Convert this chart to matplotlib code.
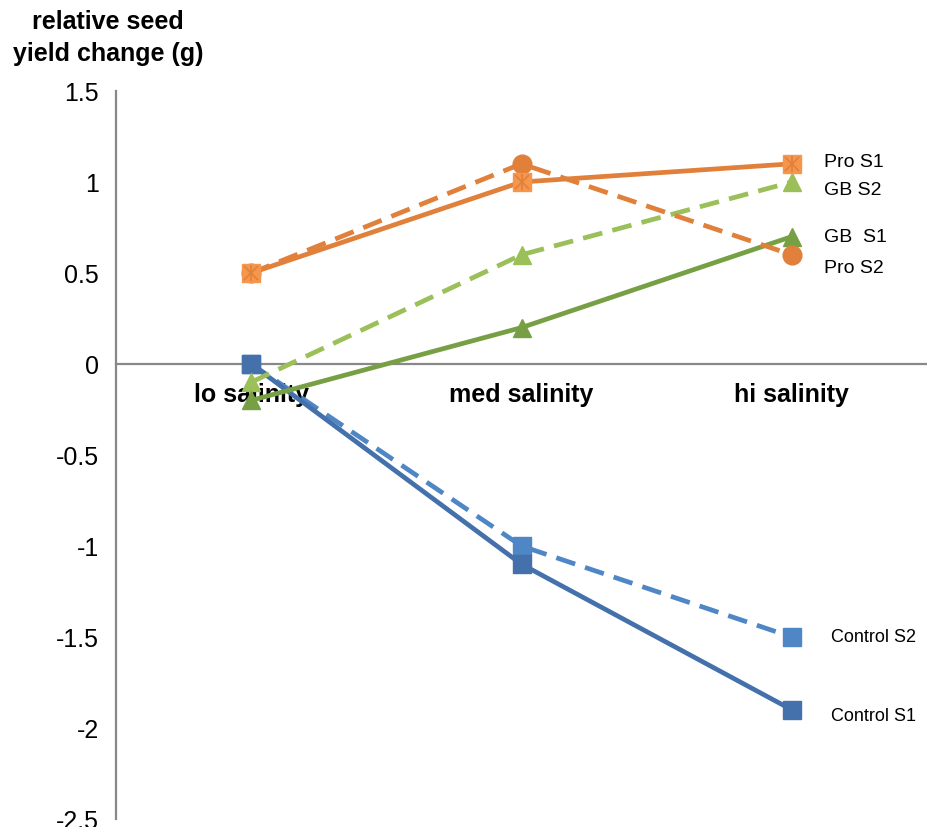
import numpy as np
import matplotlib.pyplot as plt

plt.rcParams['font.family'] = ['Liberation Sans', 'DejaVu Sans']

categories = ['lo salinity', 'med salinity', 'hi salinity']

control_s1 = [0.0, -1.1, -1.9]
control_s2 = [0.0, -1.0, -1.5]
pro_s1 = [0.5, 1.0, 1.1]
pro_s2 = [0.5, 1.1, 0.6]
gb_s1 = [-0.2, 0.2, 0.7]
gb_s2 = [-0.1, 0.6, 1.0]

yticks = [1.5, 1, 0.5, 0, -0.5, -1, -1.5, -2, -2.5]
ytick_labels = ['1.5', '1', '0.5', '0', '-0.5', '-1', '-1.5', '-2', '-2.5']

blue_dark = '#4470AB'
blue_light = '#4F86C6'
orange = '#E0803A'
orange_light = '#F5964C'
green_dark = '#77A045'
green_light = '#9BBF59'

fig = plt.figure(figsize=(9.27, 8.28), dpi=100)
ax = fig.add_axes([116 / 927, 8 / 828, 811 / 927, 728 / 828])

x = np.arange(len(categories))
lw = 3.4
ms = 12.5
dash = (0, (4.2, 2.2))

ax.plot(x, control_s2, color=blue_light, lw=lw, ls=dash,
        marker='s', ms=ms, zorder=3)
ax.plot(x, control_s1, color=blue_dark, lw=lw, marker='s', ms=ms, zorder=3)
ax.plot(x, gb_s2, color=green_light, lw=lw, ls=dash,
        marker='^', ms=ms + 1, zorder=3)
ax.plot(x, gb_s1, color=green_dark, lw=lw, marker='^', ms=ms + 1, zorder=3)
ax.plot(x, pro_s2, color=orange, lw=lw, ls=dash,
        marker='o', ms=ms + 1, zorder=3)
ax.plot(x, pro_s1, color=orange, lw=lw, marker='s', ms=ms,
        mfc=orange_light, mec=orange_light, zorder=4)
# star overlay on the Pro S1 squares
ax.plot(x, pro_s1, ls='none', marker='x', ms=ms - 2, mec=orange, mew=1.2, zorder=5)
ax.plot(x, pro_s1, ls='none', marker='|', ms=ms - 1, mec=orange, mew=1.2, zorder=5)

# series names at the right end
names = ['Pro S1', 'GB S2', 'GB  S1', 'Pro S2', 'Control S2', 'Control S1']
ends = [pro_s1[-1], gb_s2[-1], gb_s1[-1], pro_s2[-1], control_s2[-1], control_s1[-1]]
nudge = [0.01, -0.04, 0.0, -0.07, 0.0, -0.03]
xoff = [0.12, 0.12, 0.12, 0.12, 0.145, 0.145]
sizes = [14, 14, 14, 14, 13, 13]
for name, yv, dy, dx, fs in zip(names, ends, nudge, xoff, sizes):
    ax.text(x[-1] + dx, yv + dy, name, fontsize=fs, ha='left', va='center')

ax.spines['top'].set_visible(False)
ax.spines['right'].set_visible(False)
ax.spines['bottom'].set_position(('data', 0))
for s in ['left', 'bottom']:
    ax.spines[s].set_color('#888888')
    ax.spines[s].set_linewidth(1.6)

ax.set_xlim(-0.5, 2.5)
ax.set_ylim(-2.5, 1.5)
ax.set_yticks(yticks)
ax.set_yticklabels(ytick_labels, fontsize=18)
ax.set_xticks(x)
ax.set_xticklabels(categories, fontsize=18, fontweight='bold')
ax.tick_params(axis='both', length=0)
ax.tick_params(axis='y', pad=12.5)
ax.tick_params(axis='x', pad=13)
ax.set_axisbelow(True)

fig.text(108 / 927, 1 - 38 / 828, 'relative seed\nyield change (g)',
         fontsize=18, fontweight='bold', ha='center', va='center',
         linespacing=1.45)

fig.savefig('out.png', dpi=100)
